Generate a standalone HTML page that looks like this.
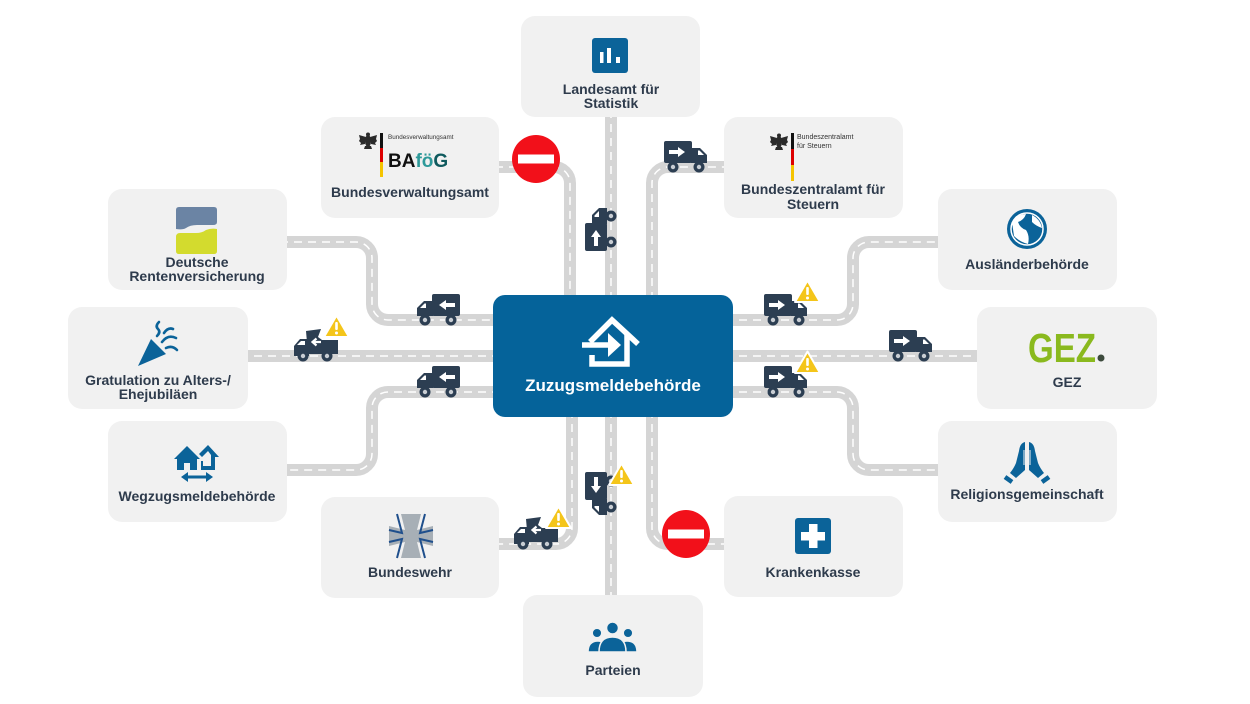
<!DOCTYPE html>
<html><head><meta charset="utf-8"><style>
html,body{margin:0;padding:0;background:#fff;}
svg{display:block;}
text{font-family:"Liberation Sans",Arial,sans-serif;}
.lbl{font-size:14px;font-weight:bold;fill:#2e3b4c;text-anchor:middle;}
</style></head><body>
<svg width="1250" height="704" viewBox="0 0 1250 704" xmlns="http://www.w3.org/2000/svg">
<defs>
 <g id="truck">
  <rect x="0" y="0" width="28" height="22" rx="2" fill="#2c3e52"/>
  <path d="M27 7 H36 L43 14 V22 H27 Z" fill="#2c3e52"/>
  <path d="M34 9.5 H35.5 L40 14 H34 Z" fill="#fff"/>
  <path d="M5 9 H14 V6 L21 11 L14 16 V13 H5 Z" fill="#fff"/>
  <circle cx="9" cy="26" r="5.5" fill="#2c3e52"/><circle cx="9" cy="26" r="2.2" fill="#c8cdd3"/>
  <circle cx="35" cy="26" r="5.5" fill="#2c3e52"/><circle cx="35" cy="26" r="2.2" fill="#c8cdd3"/>
 </g>
 <g id="tilt">
  <path d="M0,17 L6,10 H15 V27 H0 Z" fill="#2c3e52"/>
  <path d="M3,16 L7,12 H11 V16 Z" fill="#fff"/>
  <path d="M12,2 L27,0 L24,8 L28,11 H44 V25 H14 Z" fill="#2c3e52"/>
  <path d="M27,13 H19 M22.5,9.5 L18.5,13 L22.5,16.5" stroke="#fff" stroke-width="2.2" fill="none"/>
  <circle cx="9" cy="27" r="5.5" fill="#2c3e52"/><circle cx="9" cy="27" r="2.2" fill="#c8cdd3"/>
  <circle cx="33" cy="27" r="5.5" fill="#2c3e52"/><circle cx="33" cy="27" r="2.2" fill="#c8cdd3"/>
 </g>
 <g id="warn">
  <path d="M12.5,0.5 L25,22 H0 Z" fill="#f4c51a" stroke="#fff" stroke-width="2" stroke-linejoin="round"/>
  <rect x="11.2" y="7" width="2.6" height="8" rx="1" fill="#fff"/>
  <circle cx="12.5" cy="18" r="1.5" fill="#fff"/>
 </g>
 <g id="stop">
  <circle cx="0" cy="0" r="24" fill="#f2101a"/>
  <rect x="-18" y="-4.5" width="36" height="9" fill="#fff"/>
 </g>
 <g id="eagle" fill="#2a2a2a">
  <ellipse cx="0" cy="0" rx="3" ry="6"/>
  <path d="M-2,-4 L-9,-6 L-8,-2 L-9,0 L-7,2 L-8,4 L-3,3 Z"/>
  <path d="M2,-4 L9,-6 L8,-2 L9,0 L7,2 L8,4 L3,3 Z"/>
  <circle cx="0" cy="-6.5" r="2"/>
  <path d="M-3,5 L-4,8 H4 L3,5 Z"/>
 </g>
</defs>

<!-- ROADS -->
<g fill="none" stroke="#d5d5d5" stroke-width="12">
 <path id="r1" d="M495,167 H554 A16,16 0 0 1 570,183 V300"/>
 <path id="r2" d="M611,110 V300"/>
 <path id="r3" d="M652,300 V183 A16,16 0 0 1 668,167 H730"/>
 <path id="l1" d="M280,242 H356 A16,16 0 0 1 372,258 V304 A16,16 0 0 0 388,320 H500"/>
 <path id="l2" d="M240,356 H500"/>
 <path id="l3" d="M500,392 H388 A16,16 0 0 0 372,408 V454 A16,16 0 0 1 356,470 H280"/>
 <path id="q1" d="M725,320 H837 A16,16 0 0 0 853,304 V258 A16,16 0 0 1 869,242 H945"/>
 <path id="q2" d="M725,356 H985"/>
 <path id="q3" d="M725,392 H837 A16,16 0 0 1 853,408 V454 A16,16 0 0 0 869,470 H945"/>
 <path id="b1" d="M572,410 V528 A16,16 0 0 1 556,544 H495"/>
 <path id="b2" d="M611,410 V600"/>
 <path id="b3" d="M652,410 V528 A16,16 0 0 0 668,544 H730"/>
</g>
<g fill="none" stroke="#ffffff" stroke-width="1.5" stroke-dasharray="8 6">
 <use href="#r1"/><use href="#r2"/><use href="#r3"/>
 <use href="#l1"/><use href="#l2"/><use href="#l3"/>
 <use href="#q1"/><use href="#q2"/><use href="#q3"/>
 <use href="#b1"/><use href="#b2"/><use href="#b3"/>
</g>

<!-- BOXES -->
<g fill="#f1f1f1">
 <rect x="521" y="16" width="179" height="101" rx="14"/>
 <rect x="321" y="117" width="178" height="101" rx="14"/>
 <rect x="724" y="117" width="179" height="101" rx="14"/>
 <rect x="108" y="189" width="179" height="101" rx="14"/>
 <rect x="938" y="189" width="179" height="101" rx="14"/>
 <rect x="68" y="307" width="180" height="102" rx="14"/>
 <rect x="977" y="307" width="180" height="102" rx="14"/>
 <rect x="108" y="421" width="179" height="101" rx="14"/>
 <rect x="938" y="421" width="179" height="101" rx="14"/>
 <rect x="321" y="497" width="178" height="101" rx="14"/>
 <rect x="724" y="496" width="179" height="101" rx="14"/>
 <rect x="523" y="595" width="180" height="102" rx="14"/>
</g>

<!-- CENTER -->
<rect x="493" y="295" width="240" height="122" rx="12" fill="#05639a"/>
<g fill="none" stroke="#fff" stroke-width="5.5" stroke-linejoin="miter">
 <path d="M590,342 L612,320 L638,344"/>
 <path d="M627,335 V364 H592 V355"/>
 <path d="M582,345 H611"/>
</g>
<path d="M608,333 L621,345 L608,357 Z" fill="#fff"/>
<text x="613" y="391" fill="#fff" font-size="17" font-weight="bold" text-anchor="middle">Zuzugsmeldebehörde</text>

<!-- Landesamt -->
<rect x="592" y="38" width="36" height="35" rx="3" fill="#0b6399"/>
<rect x="600" y="52" width="3.5" height="11" fill="#fff"/>
<rect x="607" y="48" width="4" height="15" fill="#fff"/>
<rect x="616" y="57" width="4" height="6" fill="#fff"/>
<text class="lbl" x="611" y="94">Landesamt für</text>
<text class="lbl" x="611" y="108">Statistik</text>

<!-- Bundesverwaltungsamt -->
<use href="#eagle" transform="translate(368,141)"/>
<rect x="380" y="133" width="3" height="15" fill="#111"/>
<rect x="380" y="148" width="3" height="14" fill="#dd0000"/>
<rect x="380" y="162" width="3" height="15" fill="#f5c400"/>
<text x="388" y="139" font-size="6.3" fill="#333">Bundesverwaltungsamt</text>
<text x="388" y="167" font-size="19" font-weight="bold"><tspan fill="#111">BA</tspan><tspan fill="#2e9a9a">fö</tspan><tspan fill="#0f5a5e">G</tspan></text>
<text class="lbl" x="410" y="197">Bundesverwaltungsamt</text>

<!-- Bundeszentralamt -->
<use href="#eagle" transform="translate(779,142)"/>
<rect x="791" y="133" width="3" height="16" fill="#111"/>
<rect x="791" y="149" width="3" height="16" fill="#dd0000"/>
<rect x="791" y="165" width="3" height="16" fill="#f5c400"/>
<text x="797" y="139" font-size="7" fill="#333">Bundeszentralamt</text>
<text x="797" y="148" font-size="7" fill="#333">für Steuern</text>
<text class="lbl" x="813" y="194">Bundeszentralamt für</text>
<text class="lbl" x="813" y="209">Steuern</text>

<!-- DRV -->
<path d="M179,207 H214 Q217,207 217,210 V222 Q217,225 213,225 H197 Q190,225 186,228 Q183,230 176,229 V210 Q176,207 179,207 Z" fill="#6b84a4"/>
<path d="M176,237 Q176,233 180,233 H196 Q202,233 206,230 Q211,228 217,229 V251 Q217,254 214,254 H179 Q176,254 176,251 Z" fill="#d3db2e"/>
<text class="lbl" x="197" y="267">Deutsche</text>
<text class="lbl" x="197" y="281">Rentenversicherung</text>

<!-- Ausländerbehörde -->
<circle cx="1027" cy="229" r="20" fill="#0b6399"/>
<circle cx="1027" cy="229" r="16" fill="none" stroke="#fff" stroke-width="1.5"/>
<path d="M1012,222 Q1018,214 1026,214 Q1024,220 1018,222 Q1020,228 1026,230 Q1030,236 1028,244 Q1020,242 1014,236 Z" fill="#fff"/>
<path d="M1032,215 Q1040,219 1042,228 Q1036,226 1032,222 Z" fill="#fff"/>
<text class="lbl" x="1027" y="269">Ausländerbehörde</text>

<!-- Gratulation -->
<path d="M138,366 L151,339 L166,354 Z" fill="#0b6399"/>
<g fill="none" stroke="#0b6399" stroke-width="2.6" stroke-linecap="round">
 <path d="M157,336 Q161,332 158,329 Q155,326 159,322"/>
 <path d="M162,342 Q168,334 176,338"/>
 <path d="M166,348 Q172,345 177,350"/>
 <path d="M164,333 Q168,327 173,329"/>
</g>
<text class="lbl" x="158" y="385">Gratulation zu Alters-/</text>
<text class="lbl" x="158" y="399">Ehejubiläen</text>

<!-- GEZ -->
<text x="1028" y="362" font-size="41" font-weight="bold" fill="#8ab91e" textLength="68" lengthAdjust="spacingAndGlyphs">GEZ</text>
<circle cx="1101" cy="358" r="3.5" fill="#3c4a3c"/>
<text class="lbl" x="1067" y="387">GEZ</text>

<!-- Wegzug -->
<path d="M174,459 L187,446 L200,459 H197 V470 H190 V463 H184 V470 H177 V459 Z" fill="#0b6399"/>
<path d="M199,454 L208,445 L219,457 H215 V470 H201 V461 H203 V466 H211 V455 L208,451 L202,457 Z" fill="#0b6399"/>
<path d="M186,477 H208" stroke="#0b6399" stroke-width="3"/>
<path d="M181,477 L188,472 V482 Z M213,477 L206,472 V482 Z" fill="#0b6399"/>
<text class="lbl" x="197" y="501">Wegzugsmeldebehörde</text>

<!-- Religion -->
<g fill="#0b6399">
 <path d="M1025,442 Q1020,443 1019,451 L1016,463 Q1014,468 1010,473 L1016,478 L1025,470 Z"/>
 <path d="M1029,442 Q1034,443 1035,451 L1038,463 Q1040,468 1044,473 L1038,478 L1029,470 Z"/>
</g>
<path d="M1005,477 L1012,482 M1049,477 L1042,482" stroke="#0b6399" stroke-width="4.5"/>
<path d="M1024,450 V465 M1030,450 V465" stroke="#f1f1f1" stroke-width="1"/>
<text class="lbl" x="1027" y="499">Religionsgemeinschaft</text>

<!-- Bundeswehr -->
<path d="M405,530 L401,514 H421 L417,530 L433,526 V546 L417,542 L421,558 H401 L405,542 L389,546 V526 Z" fill="#a7afb6"/>
<g fill="none" stroke="#1f4f8c" stroke-width="2">
 <path d="M397,514 L402,533 L389,530"/>
 <path d="M425,514 L420,533 L433,530"/>
 <path d="M397,558 L402,539 L389,542"/>
 <path d="M425,558 L420,539 L433,542"/>
</g>
<text class="lbl" x="410" y="577">Bundeswehr</text>

<!-- Krankenkasse -->
<rect x="795" y="518" width="36" height="36" rx="3" fill="#0b6399"/>
<rect x="809" y="524" width="8.5" height="24" fill="#fff"/>
<rect x="801" y="532" width="24" height="8.5" fill="#fff"/>
<text class="lbl" x="813" y="577">Krankenkasse</text>

<!-- Parteien -->
<g fill="#0b6399" stroke="#f1f1f1" stroke-width="1.5">
 <circle cx="597" cy="633" r="4.8"/>
 <circle cx="628" cy="633" r="4.8"/>
 <path d="M588,652 Q588,641 598,641 Q604,641 606,645 L604,652 Z"/>
 <path d="M637,652 Q637,641 627,641 Q621,641 619,645 L621,652 Z"/>
 <circle cx="612.5" cy="628" r="6"/>
 <path d="M599,652 Q599,637 612.5,637 Q626,637 626,652 Z"/>
</g>
<text class="lbl" x="613" y="675">Parteien</text>

<!-- STOP SIGNS -->
<use href="#stop" transform="translate(536,159)"/>
<use href="#stop" transform="translate(686,534)"/>

<!-- TRUCKS -->
<use href="#truck" transform="translate(664,141)"/>
<use href="#truck" transform="translate(585,251) rotate(-90)"/>
<use href="#truck" transform="translate(460,294) scale(-1,1)"/>
<use href="#truck" transform="translate(460,366) scale(-1,1)"/>
<use href="#tilt" transform="translate(294,329)"/>
<use href="#truck" transform="translate(764,294)"/>
<use href="#truck" transform="translate(889,330)"/>
<use href="#truck" transform="translate(764,366)"/>
<use href="#tilt" transform="translate(514,517)"/>
<use href="#truck" transform="matrix(0,1,1,0,585,472)"/>

<!-- WARNINGS -->
<use href="#warn" transform="translate(324,315)"/>
<use href="#warn" transform="translate(795,280)"/>
<use href="#warn" transform="translate(795,351)"/>
<use href="#warn" transform="translate(546,506)"/>
<use href="#warn" transform="translate(609,463)"/>
</svg>
</body></html>
